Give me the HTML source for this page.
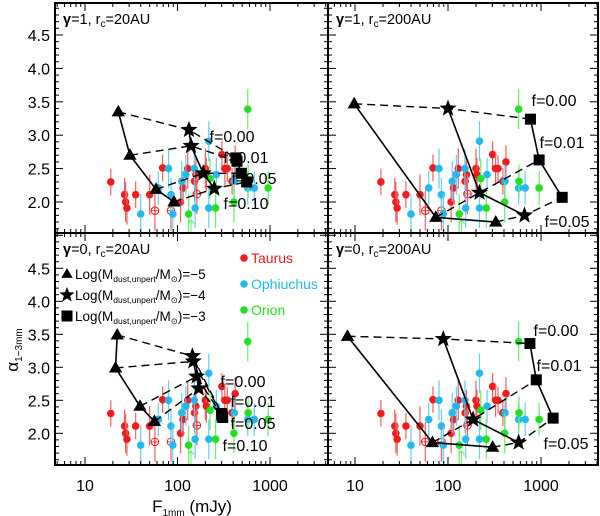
<!DOCTYPE html>
<html><head><meta charset="utf-8"><style>
html,body{margin:0;padding:0;background:#fff;}
svg{display:block;font-family:"Liberation Sans",sans-serif;}
</style></head><body>
<svg id="c" width="600" height="516" viewBox="0 0 600 516" xmlns="http://www.w3.org/2000/svg"></svg>
<script>
// observed data (shared by all panels)
const obsFlux=[19,26.8,27.5,28.4,35.3,50,69,108,115,129,153,158,200,205,302,325,345,389,420,
  57,85,162,
  40,62,80,85,89,111,123,152,155,218,218,263,410,575,676,
  575,132,225,258,407,580,955];
const obsAlpha=[2.30,2.11,2.00,1.91,2.11,2.11,2.51,2.00,2.21,2.50,2.31,2.41,2.50,2.41,2.71,2.50,2.50,2.31,2.60,
  1.87,1.87,2.12,
  1.82,2.21,2.50,2.11,1.82,2.31,2.41,2.50,1.91,2.91,1.91,2.41,2.31,2.21,2.21,
  3.39,1.82,2.35,1.91,2.00,2.31,2.21];
const obsErr=[0.2,0.25,0.3,0.25,0.2,0.3,0.2,0.3,0.25,0.3,0.3,0.25,0.3,0.25,0.2,0.25,0.2,0.2,0.25,
  0.3,0.3,0.3,
  0.3,0.25,0.3,0.25,0.3,0.3,0.3,0.3,0.3,0.3,0.3,0.25,0.25,0.25,0.25,
  0.3,0.3,0.3,0.3,0.3,0.25,0.25];
const obsGroup=['T','T','T','T','T','T','T','T','T','T','T','T','T','T','T','T','T','T','T',
  'To','To','To',
  'O','O','O','O','O','O','O','O','O','O','O','O','O','O','O',
  'R','R','R','R','R','R','R'];
// models: [f=0.00, 0.01, 0.05, 0.10]
const triF=[[22.9,30.6,58.6,91.6],[9.8,74,326],[22.3,21.4,39.3,56.3],[8.3,68,302]];
const triA=[[3.35,2.70,2.19,2.00],[3.47,1.77,1.70],[3.49,2.99,2.41,2.18],[3.47,1.86,1.79]];
const starF=[[133,140,190,250],[100,218,665],[145,148,161,170],[89,186,575]];
const starA=[[3.08,2.84,2.43,2.20],[3.40,2.14,1.80],[3.17,3.09,2.86,2.68],[3.43,2.21,1.86]];
const sqF=[[427,440,490,560],[770,955,1690],[300,302,305,308],[760,890,1350]];
const sqA=[[2.66,2.61,2.43,2.30],[3.24,2.63,2.07],[2.30,2.28,2.26,2.24],[3.36,2.81,2.23]];
const fLabels=['f=0.00','f=0.01','f=0.05','f=0.10'];
const xTickLabels=['10','100','1000'];
const yTickLabels=['2.0','2.5','3.0','3.5','4.0','4.5'];

const svg=document.getElementById('c');
const NS='http://www.w3.org/2000/svg';
function mk(tag,attrs,parent){const e=document.createElementNS(NS,tag);for(const k in attrs)e.setAttribute(k,attrs[k]);(parent||svg).appendChild(e);return e;}

const panels=[
 {x0:55,x1:328,y0:3,y1:233,d10:85,dec:92.5,y2:202,k:66.8,g:'1',rc:'20AU',lab:[[232,142],[246,163],[254,184],[246,209]]},
 {x0:328,x1:598,y0:3,y1:233,d10:355,dec:93,y2:202,k:66.8,g:'1',rc:'200AU',lab:[[554,106],[562,148],[567,227]]},
 {x0:55,x1:328,y0:233,y1:465,d10:85,dec:92.5,y2:433.3,k:66,g:'0',rc:'20AU',lab:[[243,387],[253,407],[253,429],[245,451]]},
 {x0:328,x1:598,y0:233,y1:465,d10:355,dec:93,y2:433.3,k:66,g:'0',rc:'200AU',lab:[[556,336],[559,371],[566,449]]}
];
const colFill={T:'#ee1c1c',To:'none',O:'#22b8f0',R:'#22e022'};
const colErr={T:'#f06060',To:'#f06060',O:'#66ccf4',R:'#66ee66'};

function tri(g,x,y,s){mk('path',{d:`M${x},${y-s} L${x+s*0.95},${y+s*0.65} L${x-s*0.95},${y+s*0.65}Z`,fill:'#000'},g);}
function star(g,x,y,r){let d='';for(let i=0;i<10;i++){const rr=i%2?r*0.42:r;const a=-Math.PI/2+i*Math.PI/5;d+=(i?'L':'M')+(x+rr*Math.cos(a)).toFixed(1)+','+(y+rr*Math.sin(a)).toFixed(1);}mk('path',{d:d+'Z',fill:'#000'},g);}
function sq(g,x,y,s){mk('rect',{x:x-s,y:y-s,width:2*s,height:2*s,fill:'#000'},g);}

panels.forEach((p,pi)=>{
  const X=f=>p.d10+(Math.log10(f)-1)*p.dec;
  const Y=a=>p.y2-(a-2)*p.k;
  const g=mk('g',{});
  
  
  const cid='clip'+pi;
  const cp=mk('clipPath',{id:cid},g);mk('rect',{x:p.x0,y:p.y0,width:p.x1-p.x0,height:p.y1-p.y0},cp);
  const inner=mk('g',{'clip-path':`url(#${cid})`},g);
  for(let i=0;i<obsFlux.length;i++){
    const x=X(obsFlux[i]),y=Y(obsAlpha[i]),e=obsErr[i]*p.k,gr=obsGroup[i];
    mk('line',{x1:x,y1:y-e,x2:x,y2:y+e,stroke:colErr[gr],'stroke-width':1.2},inner);
    const c=mk('circle',{cx:x,cy:y,r:gr==='To'?3.8:3.8,fill:colFill[gr],stroke:gr==='To'?'#ee1c1c':'none','stroke-width':1},inner);
    
    
    if(gr==='To'){mk('line',{x1:x-3.8,y1:y,x2:x+3.8,y2:y,stroke:'#ee1c1c','stroke-width':0.8},inner);mk('line',{x1:x,y1:y-3.8,x2:x,y2:y+3.8,stroke:'#ee1c1c','stroke-width':0.8},inner);}
  }
  const ax=X(140),ay=Y(1.72);
  mk('path',{d:`M${ax-3},${ay+3} L${ax},${ay-1} L${ax+3},${ay+3} M${ax},${ay-1} L${ax},${ay+12}`,stroke:'#66ee66',fill:'none','stroke-width':1},inner);
  const T=triF[pi],TA=triA[pi],S=starF[pi],SA=starA[pi],Q=sqF[pi],QA=sqA[pi];
  for(let j=0;j<T.length;j++){
    const pl=mk('polyline',{points:`${X(T[j])},${Y(TA[j])} ${X(S[j])},${Y(SA[j])} ${X(Q[j])},${Y(QA[j])}`,fill:'none',stroke:'#000','stroke-width':1.4,'stroke-dasharray':'8,5'},inner);
    
    
  }
  [[T,TA],[S,SA],[Q,QA]].forEach(([F,A])=>{
    const pl=mk('polyline',{points:F.map((f,j)=>X(f)+','+Y(A[j])).join(' '),fill:'none',stroke:'#000','stroke-width':1.6},inner);
    
    
  });
  T.forEach((f,j)=>tri(inner,X(f),Y(TA[j]),7));
  S.forEach((f,j)=>star(inner,X(f),Y(SA[j]),9));
  Q.forEach((f,j)=>sq(inner,X(f),Y(QA[j]),5.5));
  p.lab.forEach((l,j)=>{const t=mk('text',{x:l[0],y:l[1],'font-size':16,'text-anchor':'middle',fill:'#000'},g);t.textContent=fLabels[j];
    });
  const tt=mk('text',{x:p.x0+8,y:p.y0+21,'font-size':14.5,fill:'#000'},g);
  
  tt.innerHTML=`<tspan font-weight="bold">γ</tspan>=${p.g},  r<tspan font-size="10" dy="3">c</tspan><tspan dy="-3">=${p.rc}</tspan>`;
  mk('rect',{x:p.x0,y:p.y0,width:p.x1-p.x0,height:p.y1-p.y0,fill:'none',stroke:'#000','stroke-width':2},g);
  for(let dcd=0;dcd<=3;dcd++){for(let m=1;m<=9;m++){const v=m*Math.pow(10,dcd);const x=X(v);if(x<p.x0+1||x>p.x1-1)continue;const L=m===1?8:4;
    mk('line',{x1:x,y1:p.y1,x2:x,y2:p.y1-L,stroke:'#000','stroke-width':1},g);mk('line',{x1:x,y1:p.y0,x2:x,y2:p.y0+L,stroke:'#000','stroke-width':1},g);}}
  for(let v=1.6;v<5.05;v+=0.1){const y=Y(v);if(y<p.y0+1||y>p.y1-1)continue;const major=Math.abs(v*2-Math.round(v*2))<0.01;const L=major?8:4;
    mk('line',{x1:p.x0,y1:y,x2:p.x0+L,y2:y,stroke:'#000','stroke-width':1},g);mk('line',{x1:p.x1,y1:y,x2:p.x1-L,y2:y,stroke:'#000','stroke-width':1},g);}
  if(pi%2===0){yTickLabels.forEach((s,j)=>{const t=mk('text',{x:50,y:Y(parseFloat(s))+6,'font-size':16,'text-anchor':'end',fill:'#000'},g);t.textContent=s;
    });}
  if(pi>=2){xTickLabels.forEach(s=>{const t=mk('text',{x:X(parseFloat(s)),y:491,'font-size':16,'text-anchor':'middle',fill:'#000'},g);t.textContent=s;
    });}
});
const lg=mk('g',{});

[['Taurus','#ee1c1c',263],['Ophiuchus','#22b8f0',289],['Orion','#22e022',315]].forEach(([n,c,y])=>{
  mk('circle',{cx:244,cy:y-5,r:3.8,fill:c},lg);
  const t=mk('text',{x:251,y:y,'font-size':14,fill:c},lg);t.textContent=n;
  
});
[['tri',-5,279],['star',-4,300],['sq',-3,321]].forEach(([m,v,y])=>{
  if(m==='tri')tri(lg,67,y-5,6);else if(m==='star')star(lg,67,y-5,8);else sq(lg,67,y-5,5.5);
  const t=mk('text',{x:75,y:y,'font-size':13.5,fill:'#000'},lg);
  t.innerHTML=`Log(M<tspan font-size="8.5" dy="3">dust,unpert</tspan><tspan dy="-3">/M</tspan><tspan font-size="8.5" dy="3">⊙</tspan><tspan dy="-3">)=−${-v}</tspan>`;
  
});
const xt=mk('text',{x:192,y:512,'font-size':17,'text-anchor':'middle',fill:'#000'});

xt.innerHTML='F<tspan font-size="10" dy="4">1mm</tspan><tspan dy="-4">  (mJy)</tspan>';
const yt=mk('text',{x:0,y:0,'font-size':17,'text-anchor':'middle',fill:'#000',transform:'translate(18,350) rotate(-90)'});

yt.innerHTML='α<tspan font-size="10" dy="4">1−3mm</tspan>';
</script>
</body></html>
